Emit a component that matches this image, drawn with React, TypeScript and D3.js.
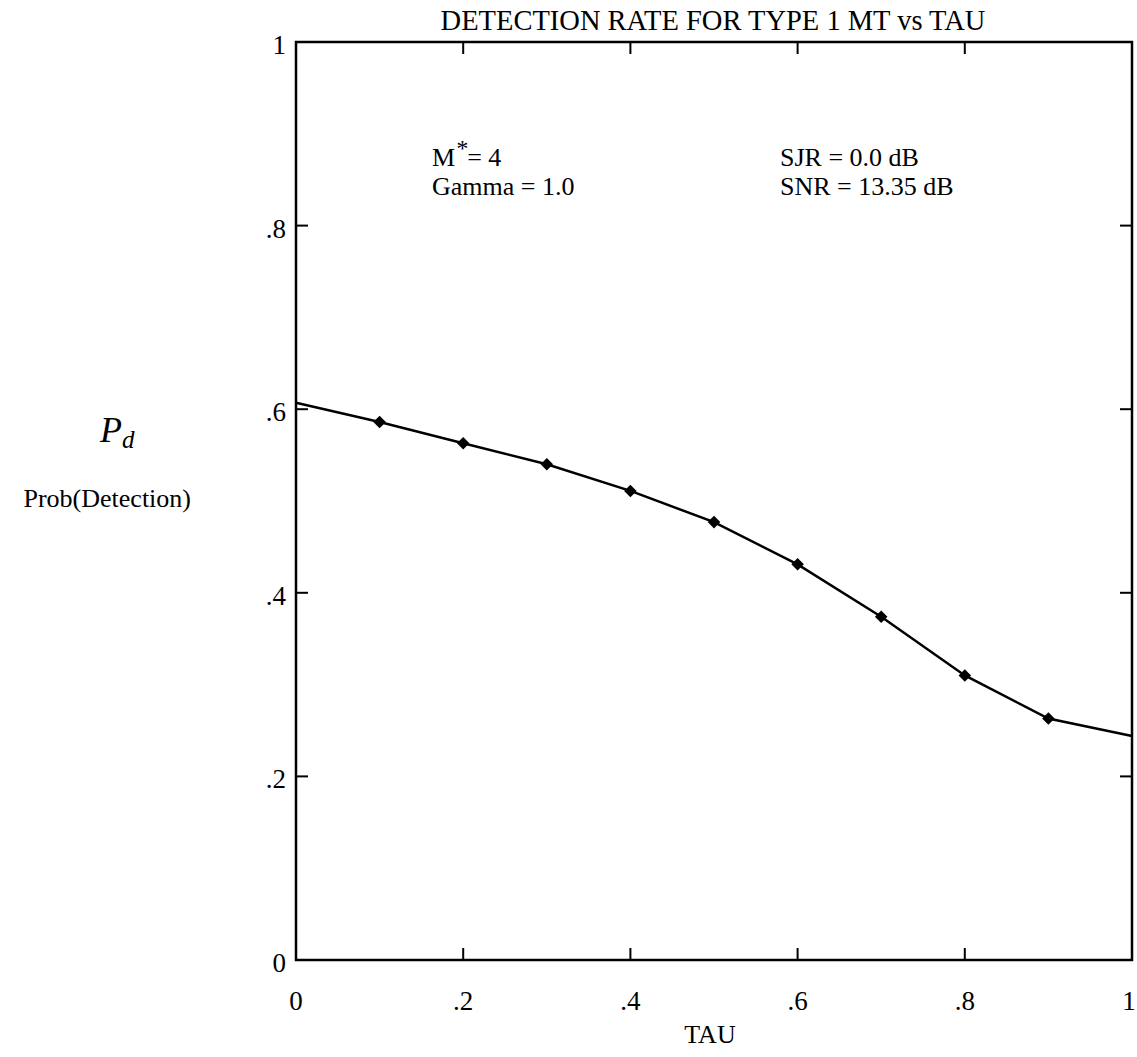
import * as d3 from "d3";
import { useEffect, useRef } from "react";

const tau = [0, 0.1, 0.2, 0.3, 0.4, 0.5, 0.6, 0.7, 0.8, 0.9, 1.0];
const pd = [0.607, 0.586, 0.563, 0.54, 0.511, 0.477, 0.431, 0.374, 0.31, 0.263, 0.244];
const xTicks = [0, 0.2, 0.4, 0.6, 0.8, 1];
const yTicks = [0, 0.2, 0.4, 0.6, 0.8, 1];
const tickLabel = (v: number) => (v === 0 ? "0" : v === 1 ? "1" : d3.format(".1f")(v).replace(/^0/, ""));

export default function App() {
	const svgRef = useRef(null);

	useEffect(() => {
		const width = 1137,
			height = 1057;
		const margin = { top: 42, right: 5, bottom: 97, left: 296 };
		const font = "'Liberation Serif', 'Times New Roman', serif";

		const svg = d3
			.select(svgRef.current)
			.attr("width", width)
			.attr("height", height)
			.style("position", "absolute")
			.style("left", 0)
			.style("top", 0)
			.style("background", "#fff");

		const x = d3.scaleLinear().domain([0, 1]).range([margin.left, width - margin.right]);
		const y = d3.scaleLinear().domain([0, 1]).range([height - margin.bottom, margin.top]);

		const g = svg.append("g");

		// frame
		g.append("rect")
			.attr("x", x(0))
			.attr("y", y(1))
			.attr("width", x(1) - x(0))
			.attr("height", y(0) - y(1))
			.attr("fill", "none")
			.attr("stroke", "#000")
			.attr("stroke-width", 2.5);

		const tl = 12;
		// inner ticks on all four sides
		xTicks.slice(1, -1).forEach((t) => {
			g.append("line").attr("x1", x(t)).attr("x2", x(t)).attr("y1", y(0)).attr("y2", y(0) - tl).attr("stroke", "#000").attr("stroke-width", 2);
			g.append("line").attr("x1", x(t)).attr("x2", x(t)).attr("y1", y(1)).attr("y2", y(1) + tl).attr("stroke", "#000").attr("stroke-width", 2);
		});
		yTicks.slice(1, -1).forEach((t) => {
			g.append("line").attr("x1", x(0)).attr("x2", x(0) + tl).attr("y1", y(t)).attr("y2", y(t)).attr("stroke", "#000").attr("stroke-width", 2);
			g.append("line").attr("x1", x(1)).attr("x2", x(1) - tl).attr("y1", y(t)).attr("y2", y(t)).attr("stroke", "#000").attr("stroke-width", 2);
		});

		// tick labels
		g.selectAll(".xl")
			.data(xTicks)
			.enter()
			.append("text")
			.attr("x", (d) => x(d) - (d === 1 ? 3 : 0))
			.attr("y", y(0) + 50)
			.attr("text-anchor", "middle")
			.attr("font-family", font)
			.attr("font-size", 27)
			.text(tickLabel);

		g.selectAll(".yl")
			.data(yTicks)
			.enter()
			.append("text")
			.attr("x", x(0) - 10)
			.attr("y", (d) => y(d) + 12)
			.attr("text-anchor", "end")
			.attr("font-family", font)
			.attr("font-size", 27)
			.text(tickLabel);

		// data line
		const line = d3
			.line<number>()
			.x((d, i) => x(tau[i]))
			.y((d) => y(d));
		g.append("path")
			.datum(pd)
			.attr("d", line)
			.attr("fill", "none")
			.attr("stroke", "#000")
			.attr("stroke-width", 2.5);

		g.selectAll(".pt")
			.data(pd.slice(1, -1))
			.enter()
			.append("path")
			.attr("d", d3.symbol(d3.symbolDiamond2, 100)())
			.attr("transform", (d, i) => `translate(${x(tau[i + 1])},${y(d)})`)
			.attr("fill", "#000");

		// title & axis labels
		svg.append("text")
			.attr("x", 713)
			.attr("y", 30)
			.attr("text-anchor", "middle")
			.attr("font-family", font)
			.attr("font-size", 28.5)
			.text("DETECTION RATE FOR TYPE 1 MT vs TAU");

		svg.append("text")
			.attr("x", 710)
			.attr("y", 1043)
			.attr("text-anchor", "middle")
			.attr("font-family", font)
			.attr("font-size", 26)
			.text("TAU");

		const pdLabel = svg
			.append("text")
			.attr("x", 100)
			.attr("y", 442)
			.attr("font-family", font)
			.attr("font-style", "italic")
			.attr("font-size", 36);
		pdLabel.append("tspan").text("P");
		pdLabel.append("tspan").attr("font-size", 25).attr("dy", 6).text("d");

		svg.append("text")
			.attr("x", 191)
			.attr("y", 507)
			.attr("text-anchor", "end")
			.attr("font-family", font)
			.attr("font-size", 26)
			.text("Prob(Detection)");

		// annotations
		const ann = svg.append("g").attr("font-family", font).attr("font-size", 26);
		const m = ann.append("text").attr("x", 432).attr("y", 166);
		m.append("tspan").text("M");
		m.append("tspan").attr("dy", -10).attr("font-size", 24).attr("font-style", "italic").text("*");
		m.append("tspan").attr("dy", 10).text("= 4");
		ann.append("text").attr("x", 432).attr("y", 195).text("Gamma = 1.0");
		ann.append("text").attr("x", 780).attr("y", 166).text("SJR = 0.0 dB");
		ann.append("text").attr("x", 780).attr("y", 195).text("SNR = 13.35 dB");

		return () => {
			d3.select(svgRef.current).selectAll("*").remove();
		};
	}, []);

	return (
		<div>
			<svg ref={svgRef} />
		</div>
	);
}
